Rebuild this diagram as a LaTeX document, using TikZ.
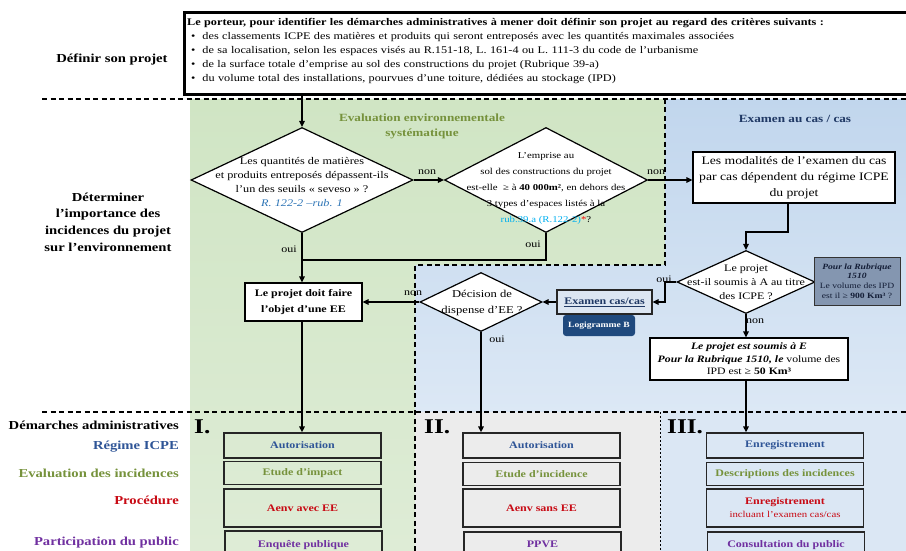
\documentclass[tikz,border=0pt]{standalone}
\usepackage{fontspec}
\setmainfont{Liberation Serif}[FakeStretch=1.2]
\usetikzlibrary{shapes.geometric,arrows.meta}
\newcommand\myfs[2]{\fontsize{#1}{#2}\selectfont}
\definecolor{grnA}{RGB}{208,229,196}
\definecolor{grnB}{RGB}{222,236,214}
\definecolor{bluA}{RGB}{193,214,237}
\definecolor{bluB}{RGB}{220,232,245}
\definecolor{bluC}{RGB}{219,231,244}
\definecolor{grayC}{RGB}{236,236,236}
\definecolor{hgreen}{RGB}{118,146,60}
\definecolor{hblue}{RGB}{31,56,100}
\definecolor{tblue}{RGB}{47,85,151}
\definecolor{tred}{RGB}{200,10,20}
\definecolor{tpurple}{RGB}{112,48,160}
\definecolor{refblue}{RGB}{46,117,182}
\definecolor{cyanc}{RGB}{0,176,240}
\definecolor{pourfill}{RGB}{132,150,176}
\definecolor{examfill}{RGB}{220,230,242}
\definecolor{logifill}{RGB}{31,73,125}
\definecolor{dtext}{RGB}{20,30,55}
\tikzset{
 ln/.style={line width=1.4pt},
 arr/.style={line width=1.4pt,-{Triangle[length=6pt,width=5.5pt]}},
 dia/.style={shape=diamond,draw=black,fill=white,line width=1.2pt,inner sep=0pt},
 dtxt/.style={align=center,inner sep=0pt},
 wbox/.style={draw=black,fill=white,line width=1.2pt,inner sep=0pt,align=center},
 cbox/.style={draw=black!85,line width=1.3pt,minimum width=157pt,inner sep=0pt,align=center,font={\myfs{10}{12}\bfseries}},
 lab/.style={font=\myfs{10}{12},inner sep=0pt},
 sep/.style={dash pattern=on 5pt off 3.5pt,line width=1.1pt},
 side/.style={anchor=east,font={\myfs{12.2}{14}\bfseries},inner sep=0pt},
 roman/.style={anchor=west,font={\myfs{21}{22}\bfseries},inner sep=0pt},
}
\begin{document}
\begin{tikzpicture}[x=1pt,y=-1pt]
\useasboundingbox (0,0) rectangle (906,551);
\clip (0,0) rectangle (906,551);
% regions
\shade[top color=grnA,bottom color=grnB] (190,99) -- (665,99) -- (665,265) -- (415,265) -- (415,551) -- (190,551) -- cycle;
\shade[top color=bluA,bottom color=bluB] (665,99) -- (906,99) -- (906,412) -- (415,412) -- (415,265) -- (665,265) -- cycle;
\fill[grayC] (415,412) rectangle (660,551);
\fill[bluC] (660,412) rectangle (906,551);
% separators
\draw[sep] (42,99) -- (906,99);
\draw[sep] (42,412) -- (906,412);
\draw[sep] (665,99) -- (665,265) -- (415,265) -- (415,551);
\draw[line width=0.8pt,dash pattern=on 2pt off 2pt] (660,412) -- (660,551);

% top box
\node[draw=black,line width=2.6pt,minimum width=726pt,minimum height=82pt,anchor=north west,inner sep=0pt] (top) at (183,11) {};
\node[anchor=north west,text width=712pt,align=left,inner sep=0pt,font=\myfs{10.2}{14}] (toptext) at (187,18)
{\textbf{Le porteur, pour identifier les démarches administratives à mener doit définir son projet au regard des critères suivants :}\\
\hspace*{4pt}\textbullet\hspace{7pt}des classements ICPE des matières et produits qui seront entreposés avec les quantités maximales associées\\
\hspace*{4pt}\textbullet\hspace{7pt}de sa localisation, selon les espaces visés au R.151-18, L. 161-4 ou L. 111-3 du code de l’urbanisme\\
\hspace*{4pt}\textbullet\hspace{7pt}de la surface totale d’emprise au sol des constructions du projet (Rubrique 39-a)\\
\hspace*{4pt}\textbullet\hspace{7pt}du volume total des installations, pourvues d’une toiture, dédiées au stockage (IPD)};

% left labels
\node[font={\myfs{12.2}{14}\bfseries},inner sep=0pt] (l1) at (112,60) {Définir son projet};
\node[font={\myfs{12.2}{16.7}\bfseries},align=center,inner sep=0pt] (l2) at (108,222) {Déterminer\\l’importance des\\incidences du projet\\sur l’environnement};
\node[side] (l3) at (179,425) {Démarches administratives};
\node[side,text=tblue] (l4) at (179,447) {Régime ICPE};
\node[side,text=hgreen] (l5) at (179,473) {Evaluation des incidences};
\node[side,text=tred] (l6) at (179,500) {Procédure};
\node[side,text=tpurple] (l7) at (179,543) {Participation du public};

% headers
\node[font={\myfs{11}{15}\bfseries},text=hgreen,align=center,inner sep=0pt] (h1) at (422,126) {Evaluation environnementale\\systématique};
\node[font={\myfs{11}{15}\bfseries},text=hblue,inner sep=0pt] (h2) at (795,119) {Examen au cas / cas};

% diamond 1
\node[dia,minimum width=222pt,minimum height=105pt] (d1) at (302,180) {};
\node[dtxt,font=\myfs{10.2}{14.2}] (d1t) at (302,182) {Les quantités de matières\\et produits entreposés dépassent-ils\\l’un des seuils « seveso » ?\\\textcolor{refblue}{\itshape R. 122-2 –rub. 1}};
% diamond 2
\node[dia,minimum width=203pt,minimum height=105pt] (d2) at (546,180) {};
\node[dtxt,font=\myfs{9}{16}] (d2t) at (546,188) {L’emprise au\\sol des constructions du projet\\est-elle \ ≥ à \textbf{40 000m²}, en dehors des\\3 types d’espaces listés à la\\\textcolor{cyanc}{rub.39.a (R.122-2)}\textcolor{red}{*}?};
% modalites box
\node[wbox,minimum width=202pt,minimum height=51pt,font=\myfs{11.4}{16}] (modal) at (794,177.5) {Les modalités de l’examen du cas\\par cas dépendent du régime ICPE\\du projet};
% diamond 3
\node[dia,minimum width=138pt,minimum height=63pt] (d3) at (746,282) {};
\node[dtxt,font=\myfs{10}{14}] (d3t) at (746,282) {Le projet\\est-il soumis à A au titre\\des ICPE ?};
% pour la rubrique box
\node[draw=black!80,fill=pourfill,line width=1pt,minimum width=86pt,minimum height=48pt,inner sep=0pt,align=center,text=dtext,font=\myfs{8}{9.8}] (pour) at (857,281) {\textbf{\textit{Pour la Rubrique}}\\\textbf{\textit{1510}}\\Le volume des IPD\\est il ≥ \textbf{900 Km³} ?};
% soumis E box
\node[wbox,minimum width=198pt,minimum height=42pt,font=\myfs{9.8}{12.5}] (se) at (749,359) {\textbf{\textit{Le projet est soumis à E}}\\\textbf{\textit{Pour la Rubrique 1510, le}} volume des\\IPD est ≥ \textbf{50 Km³}};
% examen cas/cas
\node[draw=black!85,fill=examfill,line width=1.1pt,minimum width=95pt,minimum height=24pt,inner sep=0pt,text=hblue,font={\myfs{10}{12}\bfseries}] (exam) at (604.5,302) {\underline{Examen cas/cas}};
\node[fill=logifill,rounded corners=3pt,minimum width=72pt,minimum height=21pt,inner sep=0pt,text=white,font={\myfs{8}{10}\bfseries}] (logi) at (599,325.5) {Logigramme B};
% diamond 4
\node[dia,minimum width=122pt,minimum height=59pt] (d4) at (481,302) {};
\node[dtxt,font=\myfs{10.5}{16}] (d4t) at (482,303) {Décision de\\dispense d’EE ?};
% EE box
\node[wbox,minimum width=117pt,minimum height=38pt,font={\myfs{10}{16}\bfseries}] (ee) at (303.5,302) {Le projet doit faire\\l’objet d’une EE};

% roman numerals
\node[roman] (r1) at (194,427) {I.};
\node[roman] (r2) at (424,427) {II.};
\node[roman] (r3) at (667,427) {III.};

% column I
\node[cbox,minimum height=25pt,text=tblue] (I1) at (302.5,445.5) {Autorisation};
\node[cbox,minimum height=23pt,text=hgreen] (I2) at (302.5,473) {Etude d’impact};
\node[cbox,minimum height=38pt,text=tred] (I3) at (302.5,508) {Aenv avec EE};
\node[cbox,minimum height=30pt,text=tpurple] (I4) at (303.5,546) {\raisebox{5pt}{Enquête publique}};
% column II
\node[cbox,minimum height=25pt,text=tblue] (II1) at (541.5,445.5) {Autorisation};
\node[cbox,minimum height=23pt,text=hgreen] (II2) at (541.5,474) {Etude d’incidence};
\node[cbox,minimum height=38pt,text=tred] (II3) at (541.5,508) {Aenv sans EE};
\node[cbox,minimum height=30pt,text=tpurple] (II4) at (542.5,547) {\raisebox{5pt}{PPVE}};
% column III
\node[cbox,minimum height=25pt,text=tblue] (III1) at (785,445.5) {Enregistrement};
\node[cbox,minimum height=23pt,text=hgreen] (III2) at (785,474) {Descriptions des incidences};
\node[cbox,minimum height=38pt,text=tred] (III3) at (785,508) {Enregistrement\\[1pt]{\mdseries\myfs{9}{11}incluant l’examen cas/cas}};
\node[cbox,minimum height=30pt,text=tpurple] (III4) at (786,547) {\raisebox{5pt}{Consultation du public}};

% connectors
\draw[arr] (top.south -| d1.north) -- (d1.north);
\draw[arr] (d1.east) -- (d2.west);
\draw[arr] (d2.east) -- (d2.east -| modal.west);
\coordinate (m1) at (788,232);
\draw[arr] (modal.south -| m1) -- (m1) -| (d3.north);
\coordinate (o3) at (665,302);
\draw[arr] (d3.west) -| (o3) -- (exam.east);
\draw[arr] (exam.west) -- (d4.east);
\draw[arr] (d4.west) -- (ee.east);
\coordinate (j1) at (302,260);
\draw[ln] (d2.south) |- (j1);
\draw[arr] (d1.south) -- (d1.south |- ee.north);
\draw[arr] (ee.south -| d1.south) -- (d1.south |- I1.north);
\draw[arr] (d4.south) -- (d4.south |- II1.north);
\draw[arr] (d3.south) -- (d3.south |- se.north);
\draw[arr] (se.south -| d3.south) -- (d3.south |- III1.north);

% labels
\node[lab] (n1) at (427,172) {non};
\node[lab] (n2) at (656,172) {non};
\node[lab] (o1) at (289,249) {oui};
\node[lab] (o2) at (533,244) {oui};
\node[lab] (o3l) at (664,279) {oui};
\node[lab] (n3) at (755,321) {non};
\node[lab] (n4) at (413,293) {non};
\node[lab] (o4) at (497,339) {oui};
\end{tikzpicture}
\end{document}
